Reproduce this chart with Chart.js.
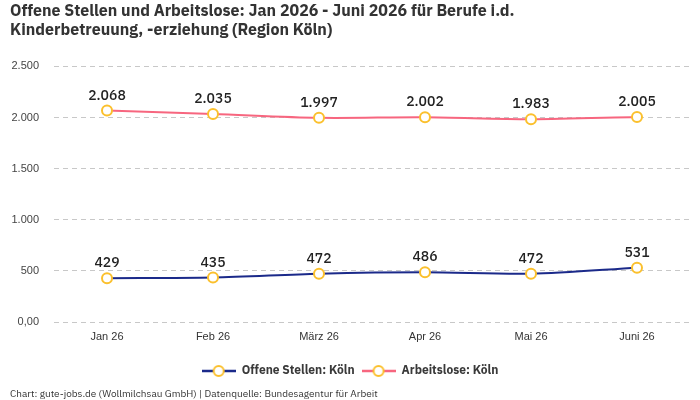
<!DOCTYPE html>
<html>
<head>
<meta charset="utf-8">
<script src="https://cdn.jsdelivr.net/npm/chart.js@4"></script>
<style>
  html, body { margin: 0; padding: 0; background: #fff; }
  #wrap { width: 700px; height: 400px; }
</style>
</head>
<body>
<div id="wrap"><canvas id="jobsChart"></canvas></div>
<script>
// Daten
const months = ['Jan 26', 'Feb 26', 'März 26', 'Apr 26', 'Mai 26', 'Juni 26'];
const offeneStellen = [429, 435, 472, 486, 472, 531];
const arbeitslose = [2068, 2035, 1997, 2002, 1983, 2005];
const yTicks = [0, 500, 1000, 1500, 2000, 2500];

const FONT = "'IBM Plex Sans', Roboto, 'Noto Sans', sans-serif";
const AXIS_FONT = "'Liberation Sans', Arial, sans-serif";
Chart.defaults.font.family = FONT;
Chart.defaults.color = '#333';

// Legenden-Symbol: Linie mit Kreis
function legendIcon(color) {
    const c = document.createElement('canvas');
    c.width = 34; c.height = 14;
    const g = c.getContext('2d');
    g.strokeStyle = color; g.lineWidth = 2.5;
    g.beginPath(); g.moveTo(0, 7); g.lineTo(34, 7); g.stroke();
    g.fillStyle = '#fff'; g.strokeStyle = '#fbc02d'; g.lineWidth = 2;
    g.beginPath(); g.arc(17, 7, 5, 0, Math.PI * 2); g.fill(); g.stroke();
    return c;
}

// Werte über den Punkten
const valueLabels = {
    id: 'valueLabels',
    afterDatasetsDraw(chart) {
        const ctx = chart.ctx;
        ctx.save();
        ctx.font = '500 14px ' + FONT;
        ctx.fillStyle = '#222';
        ctx.textAlign = 'center';
        ctx.textBaseline = 'middle';
        chart.data.datasets.forEach((ds, i) => {
            chart.getDatasetMeta(i).data.forEach((pt, j) => {
                ctx.fillText(ds.data[j].toLocaleString('de-DE'), pt.x, pt.y - 15);
            });
        });
        ctx.restore();
    }
};

const fmt = v => v === 0 ? '0,00' : v.toLocaleString('de-DE');

new Chart(document.getElementById('jobsChart'), {
    type: 'line',
    data: {
        labels: months,
        datasets: [{
            label: 'Offene Stellen: Köln',
            data: offeneStellen,
            borderColor: '#1b2a8a',
            borderWidth: 2,
            tension: 0.3,
            pointRadius: 5,
            pointBorderWidth: 2,
            pointBackgroundColor: '#fff',
            pointBorderColor: '#fbc02d',
            pointStyle: 'circle'
        }, {
            label: 'Arbeitslose: Köln',
            data: arbeitslose,
            borderColor: '#f7667f',
            borderWidth: 2,
            tension: 0.3,
            pointRadius: 5,
            pointBorderWidth: 2,
            pointBackgroundColor: '#fff',
            pointBorderColor: '#fbc02d',
            pointStyle: 'circle'
        }]
    },
    options: {
        responsive: true,
        maintainAspectRatio: false,
        animation: false,
        layout: { padding: { left: 10, right: 10, top: 2, bottom: 0 } },
        scales: {
            x: {
                offset: true,
                grid: { display: false },
                border: { display: false },
                ticks: { font: { family: AXIS_FONT, size: 11 }, color: '#333', padding: 0 },
                afterFit: scale => { scale.height = 36; }
            },
            y: {
                min: 0,
                max: 2500,
                afterBuildTicks: axis => { axis.ticks = yTicks.map(v => ({ value: v })); },
                grid: { color: '#c8c8c8', drawTicks: false },
                border: { display: false, dash: [5, 4] },
                ticks: { font: { family: AXIS_FONT, size: 11 }, color: '#444', padding: 15, callback: fmt },
                afterFit: scale => { scale.width = 44; }
            }
        },
        plugins: {
            title: {
                display: true,
                align: 'start',
                text: ['Offene Stellen und Arbeitslose: Jan 2026 - Juni 2026 für Berufe i.d.',
                       'Kinderbetreuung, -erziehung (Region Köln)'],
                font: { size: 16, weight: 'bold' },
                color: '#333',
                padding: { top: 0, bottom: 26 }
            },
            subtitle: {
                display: true,
                position: 'bottom',
                align: 'start',
                text: 'Chart: gute-jobs.de (Wollmilchsau GmbH) | Datenquelle: Bundesagentur für Arbeit',
                font: { size: 10 },
                color: '#333',
                padding: { top: 1, bottom: 0 }
            },
            legend: {
                position: 'bottom',
                labels: {
                    font: { size: 12, weight: 'bold' },
                    color: '#3a3a3a',
                    usePointStyle: true,
                    pointStyleWidth: 34,
                    padding: 7,
                    generateLabels: chart => chart.data.datasets.map((ds, i) => ({
                        text: ds.label,
                        pointStyle: legendIcon(ds.borderColor),
                        datasetIndex: i,
                        fontColor: '#3a3a3a',
                        lineWidth: 0
                    }))
                }
            },
            tooltip: { enabled: false }
        }
    },
    plugins: [valueLabels]
});
</script>
</body>
</html>
